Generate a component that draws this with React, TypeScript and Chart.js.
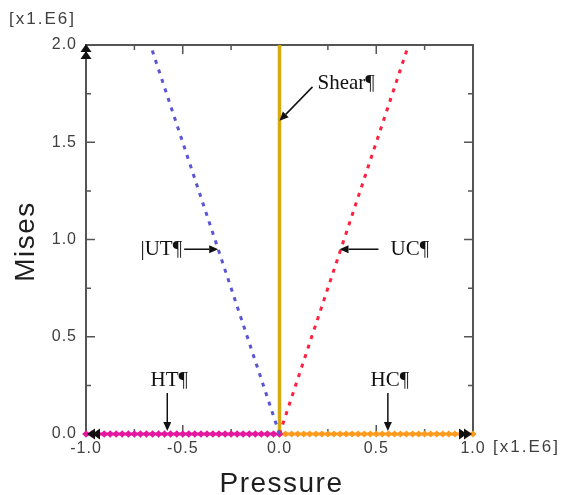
import { useEffect, useRef } from "react";
import { Chart, registerables } from "chart.js";

Chart.register(...registerables);

// Axis tick values (units of 1e6)
const pressureTicks = [-1.0, -0.5, 0.0, 0.5, 1.0];
const misesTicks = [0.0, 0.5, 1.0, 1.5, 2.0];

// Uniaxial tension / compression paths
const utPressure = [0.0, -0.667];
const utMises = [0.0, 2.0];
const ucPressure = [0.0, 0.667];
const ucMises = [0.0, 2.0];

// Pure shear path
const shearPressure = [0.0, 0.0];
const shearMises = [0.0, 2.0];

// Hydrostatic tension / compression samples
const htPressure = [
  0.0, -0.031, -0.063, -0.094, -0.125, -0.156, -0.188, -0.219, -0.25, -0.281, -0.313,
  -0.344, -0.375, -0.406, -0.438, -0.469, -0.5, -0.531, -0.563, -0.594, -0.625, -0.656,
  -0.688, -0.719, -0.75, -0.781, -0.813, -0.844, -0.875, -0.906, -0.938, -0.969, -1.0,
];
const htMises = [
  0, 0, 0, 0, 0, 0, 0, 0, 0, 0, 0, 0, 0, 0, 0, 0, 0, 0, 0, 0, 0, 0, 0, 0, 0, 0, 0, 0, 0, 0, 0, 0, 0,
];
const hcPressure = [
  0.0, 0.031, 0.063, 0.094, 0.125, 0.156, 0.188, 0.219, 0.25, 0.281, 0.313, 0.344, 0.375,
  0.406, 0.438, 0.469, 0.5, 0.531, 0.563, 0.594, 0.625, 0.656, 0.688, 0.719, 0.75, 0.781,
  0.813, 0.844, 0.875, 0.906, 0.938, 0.969, 1.0,
];
const hcMises = [
  0, 0, 0, 0, 0, 0, 0, 0, 0, 0, 0, 0, 0, 0, 0, 0, 0, 0, 0, 0, 0, 0, 0, 0, 0, 0, 0, 0, 0, 0, 0, 0, 0,
];

// Callout labels: arrow tip in data units, tail/text offsets in pixels
const callouts = [
  { text: "Shear¶", x: 0.0, y: 1.61, tail: [33, -34], label: [38, -37], align: "left" },
  { text: "|UT¶", x: -0.317, y: 0.95, tail: [-34, 0], label: [-36, 0], align: "right" },
  { text: "UC¶", x: 0.31, y: 0.95, tail: [39, 0], label: [51, 0], align: "left" },
  { text: "HT¶", x: -0.58, y: 0.0, tail: [0, -38], label: [2, -51], align: "center", tipOff: -3 },
  { text: "HC¶", x: 0.56, y: 0.0, tail: [0, -38], label: [2, -51], align: "center", tipOff: -3 },
];

const AXIS = "#555555";
const TICK_TEXT = "#404040";
const SANS = "'Liberation Sans', Arial, sans-serif";

const pts = (xs: number[], ys: number[]) => xs.map((x, i) => ({ x, y: ys[i] }));

function arrow(ctx: CanvasRenderingContext2D, x0: number, y0: number, x1: number, y1: number) {
  const a = Math.atan2(y1 - y0, x1 - x0);
  const len = 9;
  const w = 4;
  ctx.beginPath();
  ctx.moveTo(x0, y0);
  ctx.lineTo(x1 - Math.cos(a) * len, y1 - Math.sin(a) * len);
  ctx.stroke();
  ctx.beginPath();
  ctx.moveTo(x1, y1);
  ctx.lineTo(x1 - Math.cos(a) * len - Math.sin(a) * w, y1 - Math.sin(a) * len + Math.cos(a) * w);
  ctx.lineTo(x1 - Math.cos(a) * len + Math.sin(a) * w, y1 - Math.sin(a) * len - Math.cos(a) * w);
  ctx.closePath();
  ctx.fill();
}

function head(ctx: CanvasRenderingContext2D, tx: number, ty: number, dir: "l" | "r" | "u") {
  const L = 8;
  const W = 5.5;
  ctx.beginPath();
  if (dir === "l") {
    ctx.moveTo(tx, ty);
    ctx.lineTo(tx + L, ty - W);
    ctx.lineTo(tx + L, ty + W);
  } else if (dir === "r") {
    ctx.moveTo(tx, ty);
    ctx.lineTo(tx - L, ty - W);
    ctx.lineTo(tx - L, ty + W);
  } else {
    ctx.moveTo(tx, ty);
    ctx.lineTo(tx - W, ty + L);
    ctx.lineTo(tx + W, ty + L);
  }
  ctx.closePath();
  ctx.fill();
}

const framePlugin = {
  id: "frame",
  beforeDraw(chart: any) {
    (chart.ctx as any).letterSpacing = "1px";
  },
  beforeDatasetsDraw(chart: any) {
    const ctx = chart.ctx as CanvasRenderingContext2D;
    (ctx as any).letterSpacing = "0px";
    const { left, right, top, bottom } = chart.chartArea;
    const xs = chart.scales.x;
    const ys = chart.scales.y;
    ctx.save();
    ctx.strokeStyle = AXIS;
    ctx.lineWidth = 2;
    ctx.beginPath();
    ctx.rect(left, top, right - left, bottom - top);
    ctx.stroke();

    const minors = (ticks: number[]) =>
      ticks.slice(1).map((v, i) => (v + ticks[i]) / 2);

    ctx.lineWidth = 1.5;
    ctx.beginPath();
    const tickX = (v: number, len: number) => {
      const px = xs.getPixelForValue(v);
      ctx.moveTo(px, bottom);
      ctx.lineTo(px, bottom - len);
      ctx.moveTo(px, top);
      ctx.lineTo(px, top + len);
    };
    const tickY = (v: number, len: number) => {
      const py = ys.getPixelForValue(v);
      ctx.moveTo(left, py);
      ctx.lineTo(left + len, py);
      ctx.moveTo(right, py);
      ctx.lineTo(right - len, py);
    };
    pressureTicks.slice(1, -1).forEach((v) => tickX(v, 9));
    minors(pressureTicks).forEach((v) => tickX(v, 5));
    misesTicks.slice(1, -1).forEach((v) => tickY(v, 9));
    minors(misesTicks).forEach((v) => tickY(v, 5));
    ctx.stroke();
    ctx.restore();
  },
  afterDatasetsDraw(chart: any) {
    const ctx = chart.ctx as CanvasRenderingContext2D;
    const { left, right, top, bottom } = chart.chartArea;
    ctx.save();
    ctx.fillStyle = "#111111";
    head(ctx, left + 1, bottom, "l");
    head(ctx, left + 6, bottom, "l");
    head(ctx, right - 1, bottom, "r");
    head(ctx, right - 6, bottom, "r");
    head(ctx, left, top - 1, "u");
    head(ctx, left, top + 6, "u");
    ctx.restore();
  },
  afterDraw(chart: any) {
    const ctx = chart.ctx as CanvasRenderingContext2D;
    const xs = chart.scales.x;
    const ys = chart.scales.y;
    const { left, right, top, bottom } = chart.chartArea;
    ctx.save();

    // scale factor notes
    ctx.fillStyle = TICK_TEXT;
    ctx.font = `17px ${SANS}`;
    (ctx as any).letterSpacing = "2px";
    ctx.textBaseline = "middle";
    ctx.textAlign = "left";
    ctx.fillText("[x1.E6]", 9, 19);
    ctx.fillText("[x1.E6]", right + 20, bottom + 13);

    // axis titles
    ctx.fillStyle = "#1e1e1e";
    ctx.font = `28px ${SANS}`;
    (ctx as any).letterSpacing = "1.5px";
    ctx.textAlign = "center";
    ctx.textBaseline = "alphabetic";
    ctx.fillText("Pressure", (left + right) / 2 + 2, 492);
    ctx.save();
    ctx.translate(34, (top + bottom) / 2 + 2);
    ctx.rotate(-Math.PI / 2);
    ctx.fillText("Mises", 0, 0);
    ctx.restore();

    // callouts
    (ctx as any).letterSpacing = "0px";
    ctx.fillStyle = "#111111";
    ctx.strokeStyle = "#111111";
    ctx.lineWidth = 1.5;
    ctx.font = "21px 'Liberation Serif', 'Times New Roman', serif";
    ctx.textBaseline = "middle";
    callouts.forEach((c) => {
      const tx = xs.getPixelForValue(c.x);
      const ty = ys.getPixelForValue(c.y) + (c.tipOff || 0);
      arrow(ctx, tx + c.tail[0], ty + c.tail[1], tx, ty);
      ctx.textAlign = c.align as CanvasTextAlign;
      ctx.fillText(c.text, tx + c.label[0], ty + c.label[1]);
    });
    ctx.restore();
  },
};

export default function App() {
  const ref = useRef<HTMLCanvasElement>(null);

  useEffect(() => {
    document.body.style.margin = "0";
    const canvas = ref.current!;
    const chart = new Chart(canvas, {
      type: "scatter",
      data: {
        datasets: [
          {
            label: "UT",
            data: pts(utPressure, utMises),
            showLine: true,
            borderColor: "#5b55d6",
            borderWidth: 3,
            borderDash: [4, 6],
            pointRadius: 0,
            clip: false,
          },
          {
            label: "UC",
            data: pts(ucPressure, ucMises),
            showLine: true,
            borderColor: "#ff2040",
            borderWidth: 3,
            borderDash: [4, 6],
            pointRadius: 0,
            clip: false,
          },
          {
            label: "Shear",
            data: pts(shearPressure, shearMises),
            showLine: true,
            borderColor: "#d6a90e",
            borderWidth: 3.5,
            pointRadius: 0,
            clip: false,
          },
          {
            label: "HT",
            data: pts(htPressure, htMises),
            showLine: true,
            borderColor: "#e4179f",
            backgroundColor: "#e4179f",
            borderWidth: 3,
            pointStyle: "rectRot",
            pointRadius: 3.8,
            pointBorderWidth: 0,
            clip: false,
          },
          {
            label: "HC",
            data: pts(hcPressure, hcMises),
            showLine: true,
            borderColor: "#ff9a1c",
            backgroundColor: "#ff9a1c",
            borderWidth: 3,
            pointStyle: "rectRot",
            pointRadius: 3.6,
            pointBorderWidth: 0,
            clip: false,
          },
        ],
      },
      options: {
        responsive: false,
        animation: false,
        devicePixelRatio: 1,
        layout: { padding: { top: 45, right: 95, bottom: 0, left: 0 } },
        plugins: { legend: { display: false }, tooltip: { enabled: false } },
        scales: {
          x: {
            type: "linear",
            min: -1,
            max: 1,
            grid: { display: false, drawTicks: false },
            border: { display: false },
            afterBuildTicks: (s: any) => {
              s.ticks = pressureTicks.map((value) => ({ value }));
            },
            afterFit: (s: any) => {
              s.height = 61;
            },
            ticks: {
              padding: 5,
              color: TICK_TEXT,
              font: { family: SANS, size: 16 },
              maxRotation: 0,
              callback: (v: any) => Number(v).toFixed(1),
            },
          },
          y: {
            type: "linear",
            min: 0,
            max: 2,
            grid: { display: false, drawTicks: false },
            border: { display: false },
            afterBuildTicks: (s: any) => {
              s.ticks = misesTicks.map((value) => ({ value }));
            },
            afterFit: (s: any) => {
              s.width = 86;
            },
            ticks: {
              padding: 9,
              color: TICK_TEXT,
              font: { family: SANS, size: 16 },
              callback: (v: any) => Number(v).toFixed(1),
            },
          },
        },
      },
      plugins: [framePlugin],
    } as any);
    return () => chart.destroy();
  }, []);

  return (
    <div style={{ width: 568, height: 495, background: "#ffffff" }}>
      <canvas ref={ref} width={568} height={495} style={{ display: "block" }} />
    </div>
  );
}
